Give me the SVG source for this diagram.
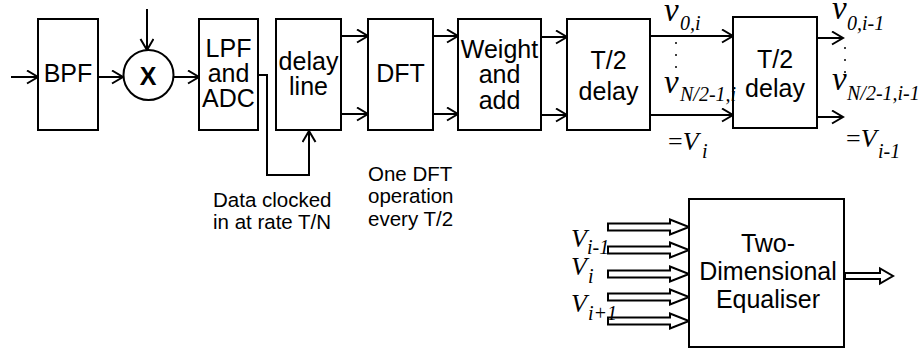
<svg xmlns="http://www.w3.org/2000/svg" width="922" height="349" viewBox="0 0 922 349">
<defs>
<style>
.box{fill:#fff;stroke:#000;stroke-width:2}
.ln{fill:none;stroke:#000;stroke-width:2}
.arr{fill:none;stroke:#000;stroke-width:2;marker-end:url(#ah)}
.hol{fill:#fff;stroke:#000;stroke-width:2;stroke-linejoin:miter}
.lbl{font-family:"Liberation Sans",Arial,sans-serif;font-size:25px;text-anchor:middle;fill:#000}
.note{font-family:"Liberation Sans",Arial,sans-serif;font-size:20.5px;fill:#000}
.m{font-family:"Liberation Serif","Times New Roman",serif;font-style:italic;fill:#000}
.up{font-style:normal}
.dot{fill:#000}
</style>
<marker id="ah" markerWidth="14" markerHeight="16" refX="12" refY="7" orient="auto" markerUnits="userSpaceOnUse">
<path d="M1,0.5 L12,7 L1,13.5" fill="none" stroke="#000" stroke-width="2"/>
</marker>
</defs>

<g id="connectors">
<line class="arr" x1="11" y1="77" x2="38" y2="77"/>
<line class="arr" x1="98" y1="77" x2="123" y2="77"/>
<line class="arr" x1="147" y1="9" x2="147" y2="50"/>
<line class="arr" x1="174" y1="77" x2="199" y2="77"/>
<polyline class="arr" points="258,75 267,75 267,175 309,175 309,131"/>
<line class="arr" x1="341" y1="36" x2="368" y2="36"/>
<line class="arr" x1="341" y1="114" x2="368" y2="114"/>
<line class="arr" x1="433" y1="36" x2="458" y2="36"/>
<line class="arr" x1="433" y1="114" x2="458" y2="114"/>
<line class="arr" x1="541" y1="37" x2="567" y2="37"/>
<line class="arr" x1="541" y1="115" x2="567" y2="115"/>
<line class="arr" x1="650" y1="36" x2="733" y2="36"/>
<line class="arr" x1="650" y1="115" x2="733" y2="115"/>
<line class="arr" x1="817" y1="38" x2="843" y2="38"/>
<line class="arr" x1="817" y1="117" x2="843" y2="117"/>
<polygon class="hol" points="608,223.5 670,223.5 670,219.5 689,227 670,234.5 670,230.5 608,230.5"/>
<polygon class="hol" points="608,246.5 670,246.5 670,242.5 689,250 670,257.5 670,253.5 608,253.5"/>
<polygon class="hol" points="608,270.5 670,270.5 670,266.5 689,274 670,281.5 670,277.5 608,277.5"/>
<polygon class="hol" points="608,293.5 670,293.5 670,289.5 689,297 670,304.5 670,300.5 608,300.5"/>
<polygon class="hol" points="608,317.5 670,317.5 670,313.5 689,321 670,328.5 670,324.5 608,324.5"/>
<polygon class="hol" points="845,273 880,273 880,268.5 893,276 880,283.5 880,279 845,279"/>
</g>

<g id="bpf"><rect class="box" x="38" y="19" width="60" height="111"/><text class="lbl" x="68" y="82">BPF</text></g>
<g id="mixer"><circle class="box" cx="148.5" cy="75" r="25"/><text class="lbl" x="148" y="85" font-weight="bold">X</text></g>
<g id="lpf"><rect class="box" x="199" y="19" width="59" height="111"/><text class="lbl" x="228.5" y="57">LPF</text><text class="lbl" x="228.5" y="82">and</text><text class="lbl" x="228.5" y="107">ADC</text></g>
<g id="delayline"><rect class="box" x="276" y="19" width="65" height="111"/><text class="lbl" x="308.5" y="70">delay</text><text class="lbl" x="308.5" y="95">line</text></g>
<g id="dft"><rect class="box" x="368" y="19" width="65" height="111"/><text class="lbl" x="400.5" y="82">DFT</text></g>
<g id="weight"><rect class="box" x="458" y="19" width="83" height="111"/><text class="lbl" x="499.5" y="58">Weight</text><text class="lbl" x="499.5" y="83">and</text><text class="lbl" x="499.5" y="109">add</text></g>
<g id="delay1"><rect class="box" x="567" y="19" width="83" height="111"/><text class="lbl" x="608.5" y="69">T/2</text><text class="lbl" x="608.5" y="100">delay</text></g>
<g id="delay2"><rect class="box" x="733" y="17" width="84" height="111"/><text class="lbl" x="775" y="68">T/2</text><text class="lbl" x="775" y="97">delay</text></g>
<g id="equaliser"><rect class="box" x="689" y="199" width="155" height="148"/><text class="lbl" x="768" y="252">Two-</text><text class="lbl" x="768" y="280">Dimensional</text><text class="lbl" x="768" y="308">Equaliser</text></g>

<g id="labels">
<text class="m" x="664" y="21" font-size="33">v</text><text class="m" x="680" y="30" font-size="20">0,i</text>
<circle class="dot" cx="676" cy="43" r="1"/><circle class="dot" cx="676" cy="55" r="1"/><circle class="dot" cx="676" cy="67" r="1"/>
<text class="m" x="664" y="93" font-size="33">v</text><text class="m" x="680" y="101" font-size="20">N/2-1,i</text>
<text class="m" x="668" y="150" font-size="26"><tspan class="up">=</tspan>V</text><text class="m" x="702" y="158" font-size="20">i</text>

<text class="m" x="832" y="19" font-size="33">v</text><text class="m" x="847" y="30" font-size="20">0,i-1</text>
<circle class="dot" cx="845" cy="48" r="1"/><circle class="dot" cx="845" cy="60" r="1"/><circle class="dot" cx="845" cy="72" r="1"/>
<text class="m" x="832" y="90" font-size="33">v</text><text class="m" x="847" y="100" font-size="20">N/2-1,i-1</text>
<text class="m" x="846" y="147" font-size="26"><tspan class="up">=</tspan>V</text><text class="m" x="878" y="158" font-size="20">i-1</text>

<text class="m" x="571" y="247" font-size="26">V</text><text class="m" x="587" y="254" font-size="20">i-1</text>
<text class="m" x="571" y="275" font-size="26">V</text><text class="m" x="588" y="283" font-size="20">i</text>
<text class="m" x="571" y="312" font-size="26">V</text><text class="m" x="588" y="320" font-size="20">i+1</text>

<text class="note" x="213" y="207">Data clocked</text>
<text class="note" x="213" y="229">in at rate T/N</text>
<text class="note" x="368" y="181">One DFT</text>
<text class="note" x="368" y="203">operation</text>
<text class="note" x="368" y="226">every T/2</text>
</g>
</svg>
